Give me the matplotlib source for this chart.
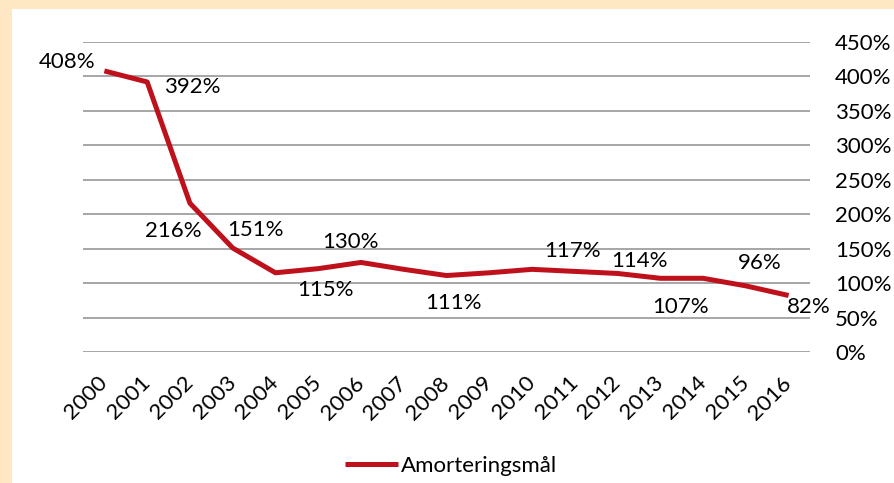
import matplotlib
matplotlib.use('Agg')
import matplotlib.pyplot as plt
from matplotlib.patches import Rectangle
import numpy as np

years = ['2000', '2001', '2002', '2003', '2004', '2005', '2006', '2007', '2008',
         '2009', '2010', '2011', '2012', '2013', '2014', '2015', '2016']
values = [408, 392, 216, 151, 115, 121, 130, 120, 111,
          115, 120, 117, 114, 107, 107, 96, 82]
series_name = 'Amorteringsmål'
y_ticks = [0, 50, 100, 150, 200, 250, 300, 350, 400, 450]

# which points get a data label, and where (offset in pixels from the point)
label_idx = [0, 1, 2, 3, 4, 6, 8, 11, 12, 13, 15, 16]
label_off = [(-37, 9), (45, -5), (-17, -28), (23, 18), (50, -17), (-11, 20),
             (7, -27), (-2, 20), (22, 12), (20, -29), (14, 23), (20, -11)]

plt.rcParams['font.family'] = ['Lato', 'DejaVu Sans']
fs = 16
line_col = '#BF111C'
beige = '#FEE8C3'

fig = plt.figure(figsize=(8.95, 4.83), dpi=100, facecolor=beige)
# white panel inside the beige frame
fig.add_artist(Rectangle((12 / 895, 0), 1, (483 - 9) / 483,
                         transform=fig.transFigure, facecolor='white',
                         edgecolor='none', zorder=-10))

ax = fig.add_axes([83 / 895, (483 - 352) / 483, (810 - 83) / 895, (352 - 42) / 483])
ax.set_facecolor('none')

x = np.arange(len(years))
line, = ax.plot(x, values, color=line_col, linewidth=3.6, solid_capstyle='butt',
                label=series_name, zorder=3)

for i, (dx, dy) in zip(label_idx, label_off):
    ax.annotate('%d%%' % values[i], (x[i], values[i]), xytext=(dx, dy),
                textcoords='offset pixels', ha='center', va='center',
                fontsize=fs, color='black', zorder=4)

ax.set_xlim(-0.5, len(years) - 0.5)
ax.set_ylim(0, 450)
ax.set_yticks(y_ticks)
ax.set_yticklabels(['%d%%' % v for v in y_ticks], fontsize=fs)
ax.yaxis.tick_right()
ax.tick_params(axis='y', length=0, pad=18)
ax.grid(axis='y', color='#A6A6A6', linewidth=1.4)
ax.set_axisbelow(True)

ax.set_xticks(x)
ax.set_xticklabels(years, fontsize=fs)
ax.tick_params(axis='x', length=0, pad=20)
plt.setp(ax.get_xticklabels(), rotation=45, ha='right', va='center',
         rotation_mode='anchor')

for s in ax.spines.values():
    s.set_visible(False)

ax.legend(handles=[line], loc='center', bbox_to_anchor=(0.504, 0.035),
          bbox_transform=fig.transFigure, frameon=False, fontsize=fs,
          handlelength=2.4, handletextpad=0.15)

fig.savefig('out.png', dpi=100, facecolor=beige)
